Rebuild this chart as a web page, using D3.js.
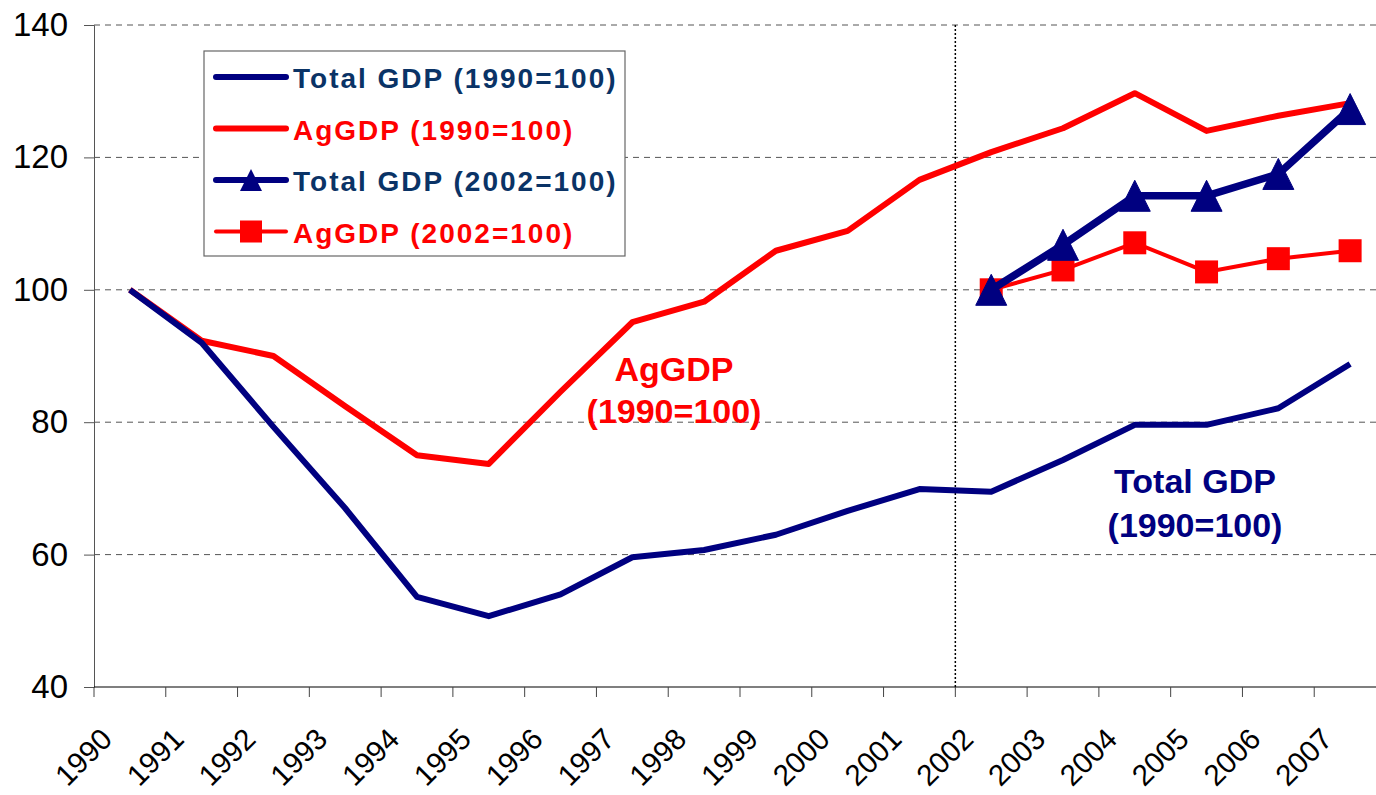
<!DOCTYPE html>
<html>
<head>
<meta charset="utf-8">
<script src="https://cdn.jsdelivr.net/npm/d3@7"></script>
<style>
  body { margin: 0; background: #fff; }
  svg { display: block; font-family: "Liberation Sans", Arial, sans-serif; }
</style>
</head>
<body>
<div id="chart"></div>
<script>
// datos
const years = ["1990","1991","1992","1993","1994","1995","1996","1997","1998","1999",
               "2000","2001","2002","2003","2004","2005","2006","2007"];
const totalGdp1990 = [100, 92.0, 79.3, 67.0, 53.6, 50.7, 54.0, 59.6, 60.7, 63.0,
                      66.6, 69.9, 69.5, 74.3, 79.6, 79.6, 82.1, 88.8];
const agGdp1990 = [100, 92.3, 90.0, 82.4, 75.0, 73.7, 84.6, 95.1, 98.2, 105.9,
                   108.9, 116.6, 120.8, 124.4, 129.7, 124.0, 126.3, 128.2];
const years2002 = ["2002","2003","2004","2005","2006","2007"];
const totalGdp2002 = [100, 106.8, 114.2, 114.2, 117.5, 127.3];
const agGdp2002 = [100, 103.0, 107.1, 102.7, 104.7, 105.9];
const yTicks = [40, 60, 80, 100, 120, 140];

const width = 1376, height = 795;
const navy = "#000080", red = "#ff0000", legendNavy = "#0a3366";

const svg = d3.select("#chart").append("svg")
  .attr("width", width).attr("height", height);

const x = d3.scaleBand().domain(years).range([94, 1386]);
const y = d3.scaleLinear().domain([40, 140]).range([687, 25]);
const cx = d => x(d) + x.bandwidth() / 2;

// triangulo tipo Excel (alto = ancho)
const triangle = s => `M0,${-s / 2}L${s / 2},${s / 2}L${-s / 2},${s / 2}Z`;

// rejilla horizontal
svg.append("g").selectAll("line").data(yTicks.filter(t => t > 40)).join("line")
  .attr("x1", 94).attr("x2", width)
  .attr("y1", d => y(d)).attr("y2", d => y(d))
  .attr("stroke", "#555").attr("stroke-width", 1).attr("stroke-dasharray", "6,5");

// linea punteada en 2002
svg.append("line")
  .attr("x1", x("2002")).attr("x2", x("2002"))
  .attr("y1", y(140)).attr("y2", y(40))
  .attr("stroke", "#000").attr("stroke-width", 1.5).attr("stroke-dasharray", "2,2");

// eje Y
const yAxis = svg.append("g").attr("transform", "translate(94,0)")
  .call(d3.axisLeft(y).tickValues(yTicks).tickSize(10).tickPadding(16));
yAxis.select(".domain").attr("stroke", "#555");
yAxis.selectAll(".tick line").attr("stroke", "#555");
yAxis.selectAll("text").attr("font-size", 33).attr("fill", "#000")
  .attr("font-family", "Liberation Sans, Arial, sans-serif");

// eje X
const xTickPos = years.map(d => x(d));
svg.append("line").attr("x1", 94).attr("x2", width).attr("y1", 687).attr("y2", 687)
  .attr("stroke", "#000").attr("stroke-width", 1.2);
svg.append("g").selectAll("line").data(xTickPos).join("line")
  .attr("x1", d => d).attr("x2", d => d).attr("y1", 687).attr("y2", 697)
  .attr("stroke", "#444");
svg.append("g").selectAll("text").data(years).join("text")
  .attr("transform", d => `translate(${cx(d) - 16},${741}) rotate(-45)`)
  .attr("text-anchor", "end")
  .attr("font-size", 29.5)
  .attr("fill", "#000")
  .text(d => d);

const line = d3.line().x(d => cx(d[0])).y(d => y(d[1]));

svg.append("path").datum(years.map((d, i) => [d, agGdp1990[i]]))
  .attr("d", line).attr("fill", "none").attr("stroke", red)
  .attr("stroke-width", 6).attr("stroke-linejoin", "round");
svg.append("path").datum(years.map((d, i) => [d, totalGdp1990[i]]))
  .attr("d", line).attr("fill", "none").attr("stroke", navy)
  .attr("stroke-width", 6).attr("stroke-linejoin", "round");

// serie 2002=100 AgGDP
const ag02 = years2002.map((d, i) => [d, agGdp2002[i]]);
svg.append("path").datum(ag02).attr("d", line).attr("fill", "none")
  .attr("stroke", red).attr("stroke-width", 4);
svg.append("g").selectAll("rect").data(ag02).join("rect")
  .attr("x", d => cx(d[0]) - 11.5).attr("y", d => y(d[1]) - 11.5)
  .attr("width", 23).attr("height", 23).attr("fill", red);

// serie 2002=100 Total GDP
const tot02 = years2002.map((d, i) => [d, totalGdp2002[i]]);
svg.append("path").datum(tot02).attr("d", line).attr("fill", "none")
  .attr("stroke", navy).attr("stroke-width", 7.5).attr("stroke-linejoin", "round");
svg.append("g").selectAll("path").data(tot02).join("path")
  .attr("d", triangle(31))
  .attr("transform", d => `translate(${cx(d[0])},${y(d[1])})`)
  .attr("fill", navy).attr("stroke", navy).attr("stroke-width", 1).attr("stroke-linejoin", "round");

// anotaciones
const notes = [
  { lines: ["AgGDP", "(1990=100)"], x: 674, y: 381, gap: 42, color: red },
  { lines: ["Total GDP", "(1990=100)"], x: 1195, y: 493, gap: 44, color: navy }
];
notes.forEach(n => {
  n.lines.forEach((t, i) => {
    svg.append("text").attr("x", n.x).attr("y", n.y + i * n.gap)
      .attr("text-anchor", "middle").attr("font-size", 34)
      .attr("font-weight", "bold").attr("fill", n.color).text(t);
  });
});

// leyenda
const legend = svg.append("g");
legend.append("rect").attr("x", 204).attr("y", 51).attr("width", 421).attr("height", 205)
  .attr("fill", "#fff").attr("stroke", "#666").attr("stroke-width", 1.2);
const legendItems = [
  { label: "Total GDP (1990=100)", color: navy, text: legendNavy, w: 6, mark: null },
  { label: "AgGDP (1990=100)", color: red, text: red, w: 6, mark: null },
  { label: "Total GDP (2002=100)", color: navy, text: legendNavy, w: 6, mark: "tri" },
  { label: "AgGDP (2002=100)", color: red, text: red, w: 4, mark: "sq" }
];
legendItems.forEach((it, i) => {
  const ly = 77 + i * 51.5;
  legend.append("line").attr("x1", 216).attr("x2", 286).attr("y1", ly).attr("y2", ly)
    .attr("stroke", it.color).attr("stroke-width", it.w).attr("stroke-linecap", "round");
  if (it.mark === "tri") {
    legend.append("path").attr("d", triangle(22))
      .attr("transform", `translate(251,${ly})`).attr("fill", it.color);
  }
  if (it.mark === "sq") {
    legend.append("rect").attr("x", 240).attr("y", ly - 11).attr("width", 22).attr("height", 22)
      .attr("fill", it.color);
  }
  legend.append("text").attr("x", 293).attr("y", ly + 11)
    .attr("font-size", 28).attr("font-weight", "bold").attr("fill", it.text)
    .attr("letter-spacing", 2)
    .text(it.label);
});
</script>
</body>
</html>
